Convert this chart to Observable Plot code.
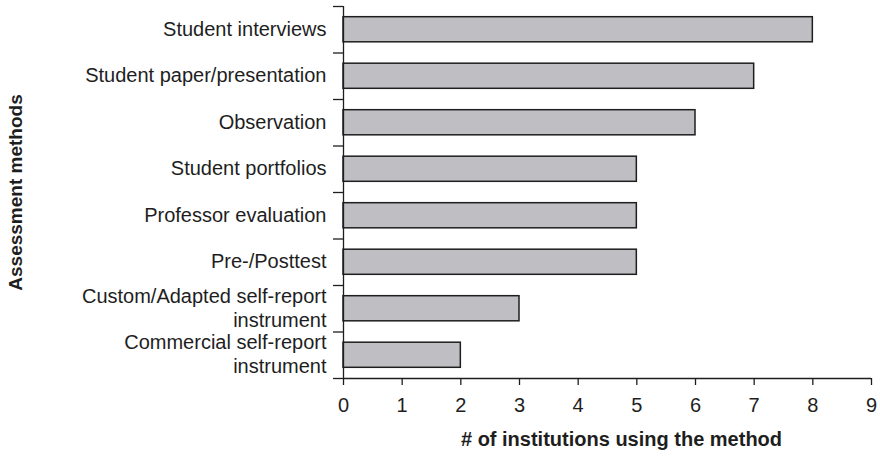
<!DOCTYPE html>
<html>
<head>
<meta charset="utf-8">
<script src="https://cdn.jsdelivr.net/npm/d3@7"></script>
<script src="https://cdn.jsdelivr.net/npm/@observablehq/plot@0.6"></script>
<style>
  html, body { margin: 0; padding: 0; background: #fff; }
  #chart { width: 880px; height: 456px; }
</style>
</head>
<body>
<div id="chart"></div>
<script>
const methods = [
  "Student interviews",
  "Student paper/presentation",
  "Observation",
  "Student portfolios",
  "Professor evaluation",
  "Pre-/Posttest",
  "Custom/Adapted self-report\ninstrument",
  "Commercial self-report\ninstrument"
];
const counts = [8, 7, 6, 5, 5, 5, 3, 2];
const xTicks = [0, 1, 2, 3, 4, 5, 6, 7, 8, 9];
const xTitle = "# of institutions using the method";
const yTitle = "Assessment methods";

const n = methods.length;
const rows = methods.map((m, i) => ({method: m, index: i, count: counts[i]}));
const half = 0.27; // half bar thickness in row units
const boundaries = d3.range(n + 1).map(i => i - 0.5);
const ink = "#1e1e1e";

const chart = Plot.plot({
  width: 880,
  height: 456,
  marginLeft: 343,
  marginRight: 9,
  marginTop: 6,
  marginBottom: 78,
  style: {fontFamily: "'Liberation Sans', Arial, Helvetica, sans-serif", fontSize: "20px", color: ink, background: "#fff"},
  x: {domain: [0, 9]},
  y: {domain: [-0.5, n - 0.5], reverse: true},
  marks: [
    Plot.rectX(rows, {
      x1: 0, x2: "count",
      y1: d => d.index - half, y2: d => d.index + half,
      fill: "#bfbfc3", stroke: ink, strokeWidth: 1.5
    }),
    Plot.ruleX([0], {stroke: ink, strokeWidth: 1.3}),
    Plot.ruleY([n - 0.5], {stroke: ink, strokeWidth: 1.3}),
    Plot.axisX(xTicks, {
      tickSize: 7, tickPadding: 12, tickFormat: d => String(d),
      stroke: ink, strokeWidth: 1.3, fill: ink, fontSize: 20, label: null
    }),
    Plot.axisY(boundaries, {
      tickSize: 10, tickFormat: () => "", stroke: ink, strokeWidth: 1.3, label: null
    }),
    Plot.axisY(d3.range(n), {
      tickSize: 0, tickPadding: 17, tickFormat: i => methods[i], dy: -1.5,
      fill: ink, fontSize: 20, lineHeight: 1.2, label: null
    }),
    Plot.text([xTitle], {
      frameAnchor: "bottom", dx: 14, dy: 61, text: d => d,
      fontWeight: "bold", fontSize: 20, fill: ink, textAnchor: "middle", lineAnchor: "middle"
    }),
    Plot.text([yTitle], {
      frameAnchor: "left", dx: -328, text: d => d, rotate: -90,
      fontWeight: "bold", fontSize: 19, fill: ink, textAnchor: "middle", lineAnchor: "middle"
    })
  ]
});
document.getElementById("chart").appendChild(chart);
</script>
</body>
</html>
